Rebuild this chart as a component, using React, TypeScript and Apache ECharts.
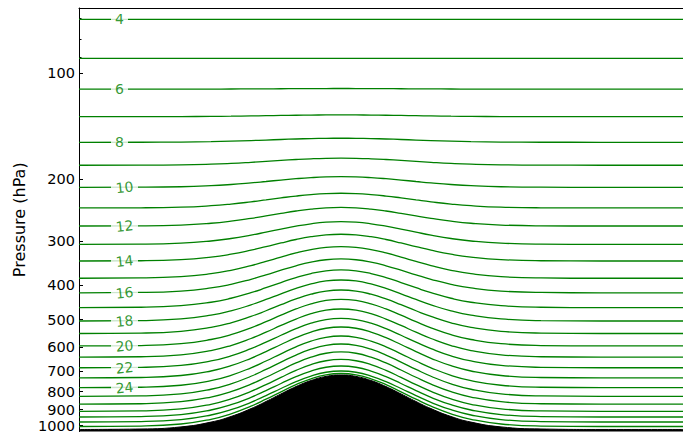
import React, { useEffect, useRef } from "react";
import * as echarts from "echarts";

// model level index for each contour line
const LEVELS = [4, 5, 6, 7, 8, 9, 10, 11, 12, 13, 14, 15, 16, 17, 18, 19, 20, 21, 22, 23, 24, 25, 26, 27, 28, 29, 30];
// pressure (hPa) of each level over flat ground
const P_FLAT = [70.3, 90.7, 111.0, 132.8, 157.0, 182.4, 210.7, 241.1, 271.3, 305.8, 341.0, 381.7, 419.7, 462.3, 504.6, 547.5, 594.0, 639.1, 684.9, 732.1, 780.2, 825.8, 869.0, 910.8, 944.7, 976.1, 1005.3];
// pressure (hPa) of each level over the mountain top
const P_PEAK = [70.3, 90.7, 110.5, 131.3, 152.9, 174.2, 196.6, 219.0, 240.3, 263.8, 286.3, 310.5, 336.5, 361.5, 386.0, 412.1, 437.9, 466.6, 495.9, 524.8, 556.6, 586.4, 617.8, 648.8, 677.0, 699.5, 711.0];
// horizontal positions and surface pressure (terrain)
const X = [0, 62, 102, 132, 152, 172, 187, 202, 217, 232, 247, 262, 277, 292, 307, 322, 337, 352, 372, 392, 422, 462, 522, 604];
const PS = [1025, 1021.8, 1007.9, 976.8, 941.7, 894.5, 853.9, 812.5, 774.5, 744.4, 724.7, 718.3, 724.7, 744.4, 774.5, 812.5, 853.9, 894.5, 941.7, 976.8, 1007.9, 1021.8, 1025, 1025];
const PS_FLAT = 1025;
const PS_PEAK = 718.3;
// labelled contours
const LABELED = [4, 6, 8, 10, 12, 14, 16, 18, 20, 22, 24];
const LABEL_X = 32;
// y-axis ticks
const MAJOR_TICKS = [100, 200, 300, 400, 500, 600, 700, 800, 900, 1000];
const MINOR_TICKS = [70, 80, 90];
const P_TOP = 65.3;
const P_BOTTOM = 1038.7;

const GREEN = "#008000";
const FONT = "DejaVu Sans";

export default function App() {
  const ref = useRef<HTMLDivElement>(null);
  useEffect(() => {
    if (!ref.current) return;
    const chart = echarts.init(ref.current, undefined, { renderer: "svg" });

    const levelSeries = LEVELS.map((lev, k) => ({
      type: "line",
      name: "L" + lev,
      data: X.map((x, i) => [
        x,
        P_FLAT[k] + ((P_PEAK[k] - P_FLAT[k]) * (PS[i] - PS_FLAT)) / (PS_PEAK - PS_FLAT),
      ]),
      smooth: true,
      showSymbol: false,
      symbol: "none",
      lineStyle: { color: GREEN, width: 1.3 },
      z: 2,
      silent: true,
    }));

    const labelData = LABELED.map((lev) => {
      const k = LEVELS.indexOf(lev);
      const w = lev >= 10 ? 27 : 17;
      return {
        value: [LABEL_X, P_FLAT[k]],
        symbolSize: [w, 13],
        symbolOffset: [w / 2, 0],
        label: {
          show: true,
          position: "inside",
          formatter: String(lev),
          rotate: lev >= 10 ? 6 : 0,
        },
      };
    });

    chart.setOption({
      animation: false,
      grid: { left: 79, top: 8, width: 604, height: 423.5, containLabel: false },
      xAxis: {
        type: "value",
        min: 0,
        max: 604,
        position: "top",
        axisLine: { show: true, lineStyle: { color: "#000", width: 1 } },
        axisTick: { show: false },
        axisLabel: { show: false },
        splitLine: { show: false },
      },
      yAxis: [
        {
          type: "log",
          inverse: true,
          min: P_TOP,
          max: P_BOTTOM,
          name: "Pressure (hPa)",
          nameLocation: "middle",
          nameRotate: 90,
          nameGap: 44,
          nameTextStyle: { fontFamily: FONT, fontSize: 16, color: "#000" },
          axisLine: { show: true, onZero: false, lineStyle: { color: "#000", width: 1 } },
          axisTick: { show: true, inside: true, length: 4, customValues: MAJOR_TICKS, lineStyle: { color: "#000" } },
          axisLabel: {
            show: true,
            customValues: MAJOR_TICKS,
            fontFamily: FONT,
            fontSize: 14.5,
            lineHeight: 13,
            color: "#000",
            margin: 4,
            formatter: (v: number) => String(Math.round(v)),
          },
          splitLine: { show: false },
          minorTick: { show: false },
        },
        {
          type: "log",
          inverse: true,
          min: P_TOP,
          max: P_BOTTOM,
          position: "left",
          axisLine: { show: false },
          axisTick: { show: true, inside: true, length: 2.5, customValues: MINOR_TICKS, lineStyle: { color: "#000" } },
          axisLabel: { show: false, customValues: MINOR_TICKS },
          splitLine: { show: false },
        },
      ],
      series: [
        ...levelSeries,
        {
          type: "line",
          name: "terrain",
          data: X.map((x, i) => [x, PS[i]]),
          smooth: true,
          showSymbol: false,
          symbol: "none",
          lineStyle: { color: "#000", width: 1 },
          areaStyle: { color: "#000", opacity: 1, origin: "end" },
          z: 3,
          silent: true,
        },
        {
          type: "scatter",
          data: labelData,
          symbol: "rect",
          itemStyle: { color: "#fff" },
          label: {
            color: GREEN,
            fontFamily: FONT,
            fontSize: 14,
          },
          z: 4,
          silent: true,
        },
      ],
    });
    return () => chart.dispose();
  }, []);
  return (
    <div
      ref={ref}
      style={{ position: "fixed", left: 0, top: 0, width: 683, height: 437, background: "#fff" }}
    />
  );
}
